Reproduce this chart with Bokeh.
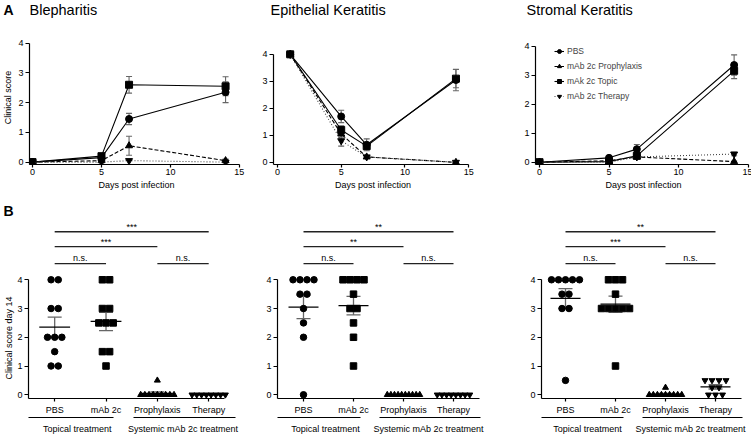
import numpy as np
from bokeh.plotting import figure
from bokeh.models import (Label, Legend, LegendItem, Whisker, TeeHead, ColumnDataSource,
                          FixedTicker, LinearAxis, Range1d, Title)
from bokeh.layouts import row, column
from bokeh.embed import file_html
from bokeh.resources import INLINE
from bokeh.core.properties import value

FONT = "Liberation Sans"

# ---------------- Data: panel A (clinical score over time, mean and SEM) ----------------
panel_titles = ["Blepharitis", "Epithelial Keratitis", "Stromal Keratitis"]
series_names = ["PBS", "mAb 2c Prophylaxis", "mAk 2c Topic", "mAb 2c Therapy"]

bleph_days = [0, 5, 7, 14]
bleph_pbs = [0.0, 0.15, 1.45, 2.35]
bleph_pbs_sem = [0.0, 0.05, 0.19, 0.35]
bleph_proph = [0.0, 0.05, 0.55, 0.05]
bleph_proph_sem = [0.0, 0.0, 0.32, 0.05]
bleph_topic = [0.0, 0.2, 2.6, 2.55]
bleph_topic_sem = [0.0, 0.05, 0.28, 0.32]
bleph_ther = [0.0, 0.0, 0.05, 0.0]
bleph_ther_sem = [0.0, 0.0, 0.0, 0.0]

epi_days = [1, 5, 7, 14]
epi_pbs = [4.0, 1.7, 0.65, 3.05]
epi_pbs_sem = [0.0, 0.23, 0.22, 0.4]
epi_proph = [4.0, 1.05, 0.2, 0.0]
epi_proph_sem = [0.0, 0.12, 0.05, 0.0]
epi_topic = [4.0, 1.2, 0.6, 3.1]
epi_topic_sem = [0.0, 0.15, 0.13, 0.34]
epi_ther = [4.0, 0.8, 0.2, 0.0]
epi_ther_sem = [0.0, 0.2, 0.05, 0.0]

strom_days = [0, 5, 7, 14]
strom_pbs = [0.0, 0.15, 0.45, 3.35]
strom_pbs_sem = [0.0, 0.05, 0.16, 0.35]
strom_proph = [0.0, 0.05, 0.18, 0.02]
strom_proph_sem = [0.0, 0.0, 0.03, 0.02]
strom_topic = [0.0, 0.02, 0.22, 3.15]
strom_topic_sem = [0.0, 0.0, 0.1, 0.27]
strom_ther = [0.0, 0.0, 0.18, 0.28]
strom_ther_sem = [0.0, 0.0, 0.04, 0.06]

# ---------------- Data: panel B (clinical score day 14, individual eyes) ----------------
groups = ["PBS", "mAb 2c", "Prophylaxis", "Therapy"]
group_labels = ["Topical treatment", "Systemic mAb 2c treatment"]

bleph_d14_pbs = [4, 4, 3, 3, 2, 2, 2, 1.5, 1, 1]
bleph_d14_mab = [4, 4, 3, 3, 2.5, 2.5, 2.5, 1.5, 1.5, 1]
bleph_d14_proph = [0.5, 0, 0, 0, 0, 0, 0, 0, 0, 0]
bleph_d14_ther = [0, 0, 0, 0, 0, 0, 0, 0]

epi_d14_pbs = [4, 4, 4, 4, 3.5, 3.5, 3, 2.5, 2, 0]
epi_d14_mab = [4, 4, 4, 4, 3.5, 3, 3, 2.5, 2, 1]
epi_d14_proph = [0, 0, 0, 0, 0, 0, 0, 0, 0, 0]
epi_d14_ther = [0, 0, 0, 0, 0, 0, 0, 0]

strom_d14_pbs = [4, 4, 4, 4, 4, 3.5, 3.5, 3, 3, 0.5]
strom_d14_mab = [4, 4, 4, 3.5, 3, 3, 3, 3, 3, 1]
strom_d14_proph = [0.25, 0, 0, 0, 0, 0, 0, 0, 0, 0]
strom_d14_ther = [0.5, 0.5, 0.5, 0.5, 0.25, 0.25, 0, 0, 0]

# significance comparisons (group index pairs) and their labels
sig_pairs = [(0, 1), (2, 3), (0, 2), (0, 3)]
sig_levels = [4.56, 4.56, 5.15, 5.67]
bleph_sig = ["n.s.", "n.s.", "***", "***"]
epi_sig = ["n.s.", "n.s.", "**", "**"]
strom_sig = ["n.s.", "n.s.", "***", "**"]

# ---------------- Styling ----------------
MARKERS = ["circle", "triangle", "square", "inverted_triangle"]
DASHES = ["solid", "4 2", "solid", "1 2"]
LINE_COLORS = ["black", "black", "black", "#444444"]
ERR_COLOR = "#666666"
FS = "9px"
W_TOTAL = 751


def style_axis(ax, tick_out=4):
    ax.axis_line_color = "black"
    ax.axis_line_width = 1.2
    ax.major_tick_line_color = "black"
    ax.major_tick_line_width = 1.2
    ax.major_tick_out = tick_out
    ax.major_tick_in = 0
    ax.minor_tick_line_color = None
    ax.major_label_text_font = FONT
    ax.major_label_text_font_size = FS
    ax.major_label_text_color = "black"
    ax.major_label_standoff = 2
    ax.axis_label_text_font = FONT
    ax.axis_label_text_font_size = FS
    ax.axis_label_text_font_style = "normal"
    ax.axis_label_text_color = "black"
    ax.axis_label_standoff = 2


def bare(p):
    p.outline_line_color = None
    p.grid.visible = False
    p.background_fill_color = "white"
    p.border_fill_color = "white"
    p.title.visible = False


def strip(height, labels):
    """A text-only strip (panel letters and titles)."""
    p = figure(width=W_TOTAL, height=height, x_range=Range1d(0, W_TOTAL), y_range=Range1d(0, height),
               x_axis_type=None, y_axis_type=None, min_border=0,
               output_backend="svg", toolbar_location=None)
    bare(p)
    for x, y, text, size, bold in labels:
        p.add_layout(Label(x=x, y=y, x_units="screen", y_units="screen", text=text,
                           text_font=FONT, text_font_size=size,
                           text_font_style="bold" if bold else "normal",
                           text_align="left", text_baseline="middle", text_color="black"))
    return p


TOP_BT, TOP_FH, TOP_BB = 6, 134, 36
TOP_Y0 = -0.08


def timecourse(days, means, sems, geo, ylabel=None, legend=False):
    p = figure(frame_width=geo["fw"], frame_height=TOP_FH,
               min_border_left=geo["bl"], min_border_right=geo["br"],
               min_border_top=TOP_BT, min_border_bottom=TOP_BB,
               x_range=Range1d(geo["x0"], geo["x1"]), y_range=Range1d(TOP_Y0, geo["y1"]),
               output_backend="svg", toolbar_location=None)
    bare(p)
    style_axis(p.xaxis[0], tick_out=3)
    style_axis(p.yaxis[0])
    p.xaxis.major_label_standoff = 1
    p.xaxis.ticker = FixedTicker(ticks=[0, 5, 10, 15])
    p.yaxis.ticker = FixedTicker(ticks=[0, 1, 2, 3, 4])
    p.xaxis.bounds = (geo["x0"], 15)
    p.yaxis.bounds = (TOP_Y0, 4)
    p.xaxis.axis_label = "Days post infection"
    if ylabel:
        p.yaxis.axis_label = ylabel

    items = []
    for i, name in enumerate(series_names):
        m = np.array(means[i], dtype=float)
        s = np.array(sems[i], dtype=float)
        ln = p.line(days, m, line_color=LINE_COLORS[i], line_width=1.1, line_dash=DASHES[i])
        sc = p.scatter(days, m, marker=MARKERS[i], size=7, fill_color="black", line_color="black")
        mask = s > 0
        if mask.any():
            src = ColumnDataSource(dict(x=np.array(days)[mask], upper=(m + s)[mask], lower=(m - s)[mask]))
            p.add_layout(Whisker(source=src, base="x", upper="upper", lower="lower", dimension="height",
                                 line_color=ERR_COLOR, line_width=1.1,
                                 upper_head=TeeHead(size=6, line_color=ERR_COLOR, line_width=1.1),
                                 lower_head=TeeHead(size=6, line_color=ERR_COLOR, line_width=1.1)))
        items.append(LegendItem(label=name, renderers=[ln, sc]))

    if legend:
        lg = Legend(items=items, location=(19, 62), label_text_font=FONT,
                    label_text_font_size="8.5px", glyph_width=10, glyph_height=12,
                    label_height=12, spacing=3, padding=0, margin=0, label_standoff=3,
                    border_line_color=None, background_fill_alpha=0)
        p.add_layout(lg, "center")
    return p


BOT_BT, BOT_FH, BOT_BB = 1, 177, 35
BOT_Y1 = 6.027
group_spans = [(0.47, 2.12), (2.5, 4.53)]
group_centers = [1.44, 3.5]


def swarm_x(vals, center, step=0.14, maxw=0.65):
    vals = np.array(vals, dtype=float)
    xs = np.zeros(len(vals))
    for v in np.unique(vals):
        idx = np.where(vals == v)[0]
        n = len(idx)
        s = step if n <= 1 else min(step, maxw / (n - 1))
        xs[idx] = center + (np.arange(n) - (n - 1) / 2.0) * s
    return xs


def dayplot(data, geo, sig_text, ylabel=None):
    p = figure(frame_width=geo["fw"], frame_height=BOT_FH,
               min_border_left=geo["bl"], min_border_right=geo["br"],
               min_border_top=BOT_BT, min_border_bottom=BOT_BB,
               x_range=Range1d(geo["x0"], 4.6), y_range=Range1d(-0.13, BOT_Y1),
               output_backend="svg", toolbar_location=None)
    bare(p)
    style_axis(p.xaxis[0], tick_out=3)
    style_axis(p.yaxis[0])
    p.xaxis.major_label_standoff = 3
    p.yaxis.ticker = FixedTicker(ticks=[0, 1, 2, 3, 4])
    p.yaxis.bounds = (-0.13, 4)
    positions = [i + 1 for i in range(len(groups))]
    p.xaxis.ticker = FixedTicker(ticks=positions)
    p.xaxis.major_label_overrides = {pos: g for pos, g in zip(positions, groups)}
    p.xaxis.bounds = (geo["x0"], geo["xend"])
    if ylabel:
        # y label placed along the 0-4 axis span rather than centred on the whole frame
        p.add_layout(Title(text=ylabel, align="left", offset=19, standoff=2,
                           text_font=FONT, text_font_size=FS, text_font_style="normal",
                           text_color="black"), "left")

    # group axis: two underlines (one dashed axis line) with the group names
    kx = geo["fw"] / (4.6 - geo["x0"])
    d1 = int(round((group_spans[0][1] - group_spans[0][0]) * kx))
    gap = int(round((group_spans[1][0] - group_spans[0][1]) * kx))
    d2 = int(round((group_spans[1][1] - group_spans[1][0]) * kx)) + 5
    ax2 = LinearAxis(ticker=FixedTicker(ticks=group_centers),
                     major_label_overrides={c: t for c, t in zip(group_centers, group_labels)},
                     bounds=(group_spans[0][0], group_spans[1][1]))
    style_axis(ax2, tick_out=0)
    ax2.major_tick_line_color = None
    ax2.major_label_standoff = 6
    ax2.axis_line_width = 1.1
    ax2.axis_line_dash = "%d %d %d" % (d1, gap, d2)
    p.add_layout(ax2, "below")

    markers = ["circle", "square", "triangle", "inverted_triangle"]
    sizes = [6.5, 6.5, 6, 6]
    for i, vals in enumerate(data):
        pos = positions[i]
        xs = swarm_x(vals, pos)
        p.scatter(xs, vals, marker=markers[i], size=sizes[i], fill_color="black", line_color="black")
        arr = np.array(vals, dtype=float)
        mean = arr.mean()
        sem = arr.std(ddof=1) / np.sqrt(len(arr))
        p.segment([pos - 0.3], [mean], [pos + 0.3], [mean], line_color="black", line_width=1.3)
        src = ColumnDataSource(dict(x=[pos], upper=[mean + sem], lower=[mean - sem]))
        p.add_layout(Whisker(source=src, base="x", upper="upper", lower="lower", dimension="height",
                             line_color=ERR_COLOR, line_width=1.3,
                             upper_head=TeeHead(size=14, line_color=ERR_COLOR, line_width=1.3),
                             lower_head=TeeHead(size=14, line_color=ERR_COLOR, line_width=1.3)))

    x0s = [positions[a] for a, b in sig_pairs]
    x1s = [positions[b] for a, b in sig_pairs]
    p.segment(x0s, sig_levels, x1s, sig_levels, line_color="#222222", line_width=1.3)
    p.text([(a + b) / 2 for a, b in zip(x0s, x1s)], [y + 0.18 for y in sig_levels], text=sig_text,
           text_font=value(FONT), text_font_size=FS, text_align="center", text_baseline="middle",
           text_color="black")
    return p


strip_a = strip(24, [(3, 15, "A", "14px", True),
                     (29, 15, panel_titles[0], "14.5px", False),
                     (270, 15, panel_titles[1], "14.5px", False),
                     (526, 15, panel_titles[2], "14.5px", False)])
strip_b = strip(20, [(3, 10, "B", "14px", True)])

f1 = timecourse(bleph_days, [bleph_pbs, bleph_proph, bleph_topic, bleph_ther],
                [bleph_pbs_sem, bleph_proph_sem, bleph_topic_sem, bleph_ther_sem],
                dict(fw=214, bl=28, br=8, x0=-0.22, x1=15.3, y1=4.424), ylabel="Clinical score")
f2 = timecourse(epi_days, [epi_pbs, epi_proph, epi_topic, epi_ther],
                [epi_pbs_sem, epi_proph_sem, epi_topic_sem, epi_ther_sem],
                dict(fw=199, bl=22, br=29, x0=-0.31, x1=15.3, y1=4.883))
f3 = timecourse(strom_days, [strom_pbs, strom_proph, strom_topic, strom_ther],
                [strom_pbs_sem, strom_proph_sem, strom_topic_sem, strom_ther_sem],
                dict(fw=216, bl=34, br=1, x0=-0.29, x1=15.25, y1=4.541), legend=True)

g1 = dayplot([bleph_d14_pbs, bleph_d14_mab, bleph_d14_proph, bleph_d14_ther],
             dict(fw=211, bl=27, br=12, x0=0.49, xend=4.3), bleph_sig,
             ylabel="Clinical score day 14")
g2 = dayplot([epi_d14_pbs, epi_d14_mab, epi_d14_proph, epi_d14_ther],
             dict(fw=206, bl=26, br=18, x0=0.48, xend=4.52), epi_sig)
g3 = dayplot([strom_d14_pbs, strom_d14_mab, strom_d14_proph, strom_d14_ther],
             dict(fw=204, bl=40, br=7, x0=0.52, xend=4.52), strom_sig)

layout = column(strip_a, row(f1, f2, f3), strip_b, row(g1, g2, g3))
open("out.html", "w").write(file_html(layout, INLINE))
